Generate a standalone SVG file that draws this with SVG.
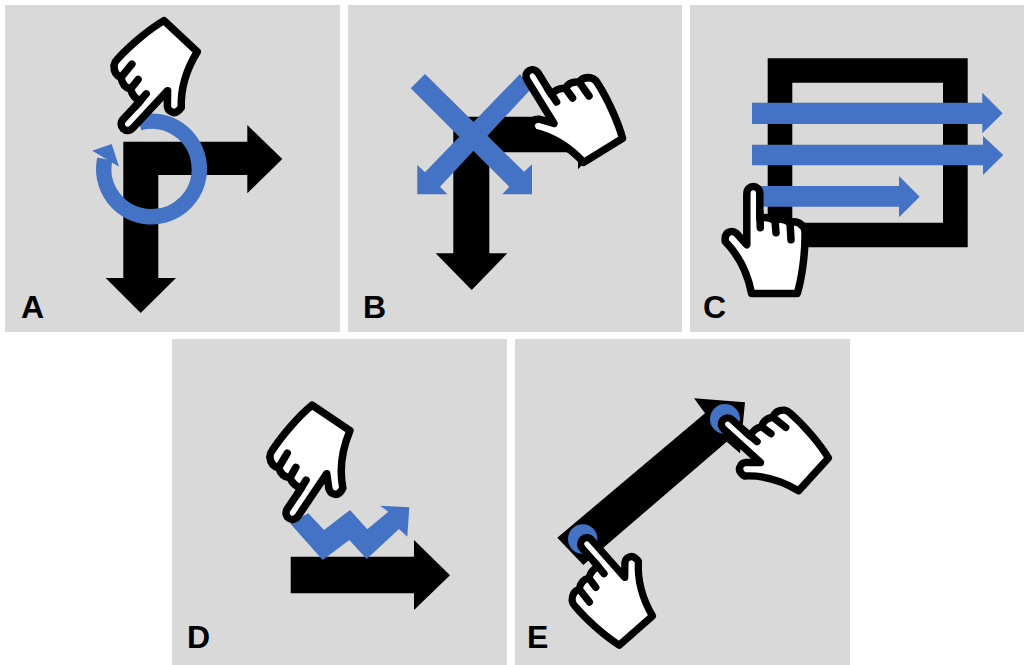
<svg xmlns="http://www.w3.org/2000/svg" width="1024" height="665" viewBox="0 0 1024 665">
<style>
.p{fill:#d9d9d9}
.k{fill:#000}
.b{fill:#4472c4}
.l{font-family:"Liberation Sans",Arial,sans-serif;font-weight:700;font-size:32px;fill:#000}
.h{fill:#fff;stroke:#000;stroke-width:7.5;stroke-linejoin:round;stroke-linecap:round}
</style>
<defs>
<g id="hand">
<path class="h" d="M-6.5,2 C-6.5,-7.5 6.5,-7.5 6.5,2 L6.5,27 Q14,24 21.7,29 Q29,25 36.7,31 Q44,28 50,35 Q52,38 51.7,42 C52,60 49,85 44,101.7 L-1.7,101.7 C-6,80 -16,62 -28,50 Q-29,41 -23,40 Q-20,39 -16.7,41.7 L-6.5,53 Z"/>
<path class="h" fill="none" d="M6.5,20 L7,36 M21.7,29 L22.7,41 M36.7,31 L37.7,48"/>
</g>
</defs>
<rect class="p" x="5" y="5" width="335" height="327"/>
<rect class="p" x="348" y="5" width="334" height="327"/>
<rect class="p" x="690" y="5" width="334" height="327"/>
<rect class="p" x="172" y="339" width="335" height="326"/>
<rect class="p" x="515" y="339" width="335" height="326"/>
<g id="panel-a">
<path class="k" d="M123.3,141.7 H247.3 V125 L282.3,159 L247.3,193.3 V175 H158.3 V278 H176 L140.7,313 L105.7,278 H123.3 Z"/>
<path fill="none" stroke="#4472c4" stroke-width="15.5" d="M139.3,122.8 A47.8,47.8 0 1 1 104.8,159"/>
<path class="b" d="M92.3,150.7 L111.7,144 L119,166.7 Z"/>
<use href="#hand" transform="translate(126.7,125) rotate(-137)"/>
<text class="l" x="21" y="317.5">A</text>
</g>
<g id="panel-b">
<path class="k" d="M453.3,116.7 H578 V100 L612,134.5 L578,169.3 V152.3 H489.3 V253.3 H507.3 L471.7,290 L435.7,253.3 H453.3 Z"/>
<path class="b" d="M425,74 L410.7,88.3 L509.3,186.7 L502.3,194.3 H532 V164.3 L524,171.7 Z"/>
<path class="b" d="M520,74 L531,89 L440,186.7 L447.3,194.3 H417.3 V165 L425,172.3 Z"/>
<use href="#hand" transform="translate(531.7,75) rotate(-31.7)"/>
<text class="l" x="363" y="317.5">B</text>
</g>
<g id="panel-c">
<path class="k" fill-rule="evenodd" d="M767.7,58.3 H967.7 V247.3 H767.7 Z M792.3,82.7 V222.7 H943 V82.7 Z"/>
<path class="b" d="M752,102.7 H982.3 V92.7 L1002.7,113.3 L982.3,133.3 V124 H752 Z"/>
<path class="b" d="M752,144.7 H983 V136 L1003.3,155 L983,175 V165.3 H752 Z"/>
<path class="b" d="M760,186 H899 V176 L919.7,196.7 L899,217.3 V206.7 H760 Z"/>
<use href="#hand" transform="translate(753.3,191.7)"/>
<text class="l" x="703" y="317.5">C</text>
</g>
<g id="panel-d">
<path class="k" d="M290.7,556.7 H414 V540 L450,575.3 L414,610 V593.3 H290.7 Z"/>
<path class="b" d="M290,523.3 L308.3,513.3 L324,530 L350,510 L367.3,529.3 L388.3,511.7 L380,505.7 L409.3,507.3 L407.3,536.7 L399,529 L366.7,559 L349.3,540 L322.7,560 Z"/>
<use href="#hand" transform="translate(291.7,514) rotate(-146)"/>
<text class="l" x="187" y="647.5">D</text>
</g>
<g id="panel-e">
<path class="k" d="M557.3,537.7 L705,413.3 L694,398.3 L745,402.3 L740,453.3 L726.7,441.7 L583.3,565 Z"/>
<circle class="b" cx="725" cy="419" r="15"/>
<circle class="b" cx="582.7" cy="539" r="14.7"/>
<use href="#hand" transform="translate(726.7,423.3) rotate(-47.8) scale(.97)"/>
<use href="#hand" transform="translate(586,543) rotate(-41.4) scale(-.97,.97)"/>
<text class="l" x="527" y="647.5">E</text>
</g>
</svg>
